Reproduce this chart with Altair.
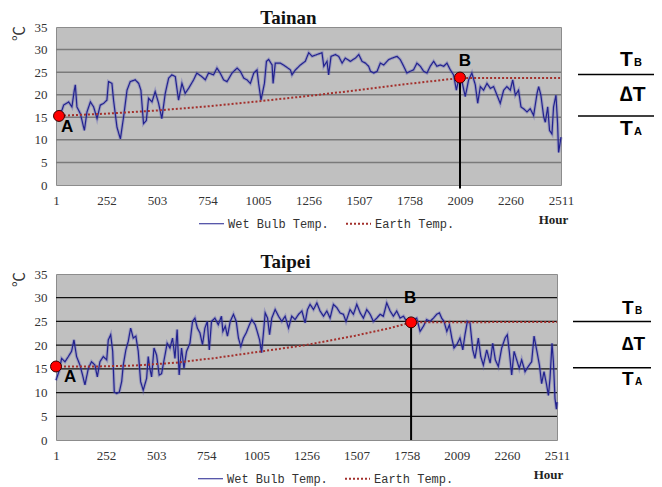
import altair as alt
import pandas as pd

SERIES = ["Wet Bulb Temp.", "Earth Temp."]
X_TICKS = [1, 252, 503, 754, 1005, 1256, 1507, 1758, 2009, 2260, 2511]
Y_TICKS = [0, 5, 10, 15, 20, 25, 30, 35]
GRID_LEVELS = [5, 10, 15, 20, 25, 30]

# ---------------- Tainan ----------------
tn_hours = [
    1, 15, 31, 39, 64, 80, 92, 97, 105, 122,
    142, 155, 172, 188, 205, 221, 238, 254, 262, 279,
    287, 304, 321, 337, 354, 370, 395, 412, 423, 436,
    450, 461, 478, 494, 511, 527, 544, 561, 577, 594,
    610, 627, 643, 660, 685, 701, 726, 743, 759, 784,
    801, 817, 834, 851, 876, 901, 917, 934, 950, 967,
    984, 1000, 1008, 1020, 1030, 1037, 1047, 1058, 1075, 1080,
    1091, 1116, 1141, 1166, 1174, 1191, 1216, 1240, 1257, 1274,
    1298, 1323, 1332, 1348, 1356, 1368, 1390, 1406, 1423, 1439,
    1464, 1489, 1506, 1522, 1539, 1555, 1564, 1580, 1597, 1613,
    1630, 1655, 1671, 1696, 1712, 1729, 1745, 1762, 1778, 1795,
    1812, 1828, 1845, 1861, 1878, 1894, 1911, 1928, 1944, 1961,
    1977, 1991, 2002, 2019, 2035, 2052, 2068, 2085, 2097, 2110,
    2126, 2143, 2160, 2176, 2193, 2209, 2226, 2242, 2259, 2271,
    2284, 2300, 2312, 2325, 2342, 2358, 2375, 2392, 2400, 2411,
    2425, 2433, 2445, 2454, 2466, 2474, 2486, 2494, 2499, 2511,
]
tn_wet = [
    15.0, 16.2, 16.6, 17.7, 18.4, 17.3, 21.0, 22.2, 17.3, 15.8,
    12.1, 16.2, 18.4, 17.3, 14.7, 17.7, 18.1, 18.8, 22.9, 22.5,
    18.8, 12.8, 10.2, 15.1, 21.0, 22.9, 23.3, 22.5, 21.0, 13.6,
    14.3, 19.2, 18.4, 20.7, 18.1, 14.7, 20.3, 23.7, 24.4, 24.0,
    18.8, 22.5, 20.3, 21.4, 23.3, 24.8, 24.0, 23.3, 24.8, 24.4,
    25.9, 24.8, 23.3, 22.9, 24.8, 25.9, 25.2, 23.7, 23.3, 22.5,
    24.8, 25.5, 22.5, 18.8, 21.0, 22.5, 27.4, 27.8, 26.6, 22.5,
    27.0, 27.0, 26.3, 25.5, 24.4, 25.5, 26.6, 27.4, 29.3, 28.5,
    28.9, 29.3, 26.3, 27.4, 24.4, 28.5, 28.9, 28.5, 27.0, 28.1,
    27.4, 28.1, 28.9, 27.4, 27.0, 26.3, 25.2, 24.8, 25.2, 27.0,
    26.6, 27.8, 28.1, 28.5, 27.8, 26.3, 24.8, 25.2, 25.5, 27.0,
    26.3, 25.2, 24.8, 26.3, 27.4, 26.3, 26.6, 26.3, 27.0, 25.5,
    24.4, 21.0, 23.3, 22.9, 19.6, 23.3, 24.8, 22.2, 18.1, 21.8,
    21.0, 22.5, 21.4, 21.8, 19.9, 18.1, 21.0, 21.8, 21.0, 23.3,
    19.9, 21.0, 17.3, 16.9, 16.2, 16.9, 15.4, 20.3, 21.8, 19.9,
    15.1, 13.9, 17.3, 12.1, 11.3, 17.3, 19.9, 13.6, 7.2, 10.6,
]
tn_earth_hours = [1, 250, 500, 750, 1000, 1250, 1500, 1750, 2009, 2511]
tn_earth = [15.3, 15.8, 16.5, 17.4, 18.5, 19.7, 21.0, 22.4, 23.7, 23.7]
tn_pt_labels = ["A", "B"]
tn_pt_hours = [16, 2009]
tn_pt_temps = [15.3, 23.8]
tn_levels = [24.5, 15.3]          # T_B line, T_A line

# ---------------- Taipei ----------------
tp_hours = [
    1, 18, 29, 46, 63, 79, 91, 104, 121, 134,
    146, 163, 179, 196, 208, 221, 238, 255, 263, 275,
    285, 293, 305, 318, 330, 338, 351, 363, 375, 388,
    401, 413, 425, 438, 455, 463, 471, 480, 492, 505,
    518, 530, 547, 558, 572, 585, 597, 608, 618, 630,
    642, 655, 672, 685, 697, 709, 722, 735, 747, 759,
    769, 780, 797, 814, 830, 837, 849, 860, 874, 890,
    904, 915, 927, 940, 954, 970, 982, 999, 1011, 1021,
    1031, 1041, 1049, 1061, 1071, 1082, 1099, 1116, 1132, 1149,
    1166, 1182, 1199, 1216, 1233, 1249, 1261, 1274, 1291, 1308,
    1324, 1341, 1358, 1374, 1391, 1408, 1424, 1441, 1454, 1474,
    1491, 1508, 1525, 1541, 1558, 1575, 1591, 1608, 1625, 1641,
    1658, 1675, 1691, 1708, 1725, 1742, 1758, 1778, 1792, 1808,
    1825, 1842, 1858, 1875, 1892, 1908, 1922, 1933, 1945, 1959,
    1972, 1984, 1995, 2009, 2025, 2039, 2050, 2062, 2075, 2089,
    2100, 2117, 2129, 2142, 2159, 2176, 2189, 2202, 2217, 2234,
    2251, 2262, 2272, 2284, 2296, 2309, 2322, 2334, 2351, 2367,
    2384, 2396, 2409, 2423, 2434, 2446, 2459, 2468, 2476, 2486,
    2493, 2501, 2508, 2511,
]
tp_wet = [
    12.6, 14.7, 17.2, 16.5, 17.6, 18.7, 21.1, 17.6, 15.8, 13.7,
    11.6, 15.1, 16.5, 15.8, 13.3, 16.5, 17.6, 16.9, 21.1, 22.2,
    18.7, 10.1, 9.8, 10.1, 12.3, 15.8, 19.0, 20.8, 23.6, 21.5,
    21.9, 18.7, 12.3, 10.5, 13.0, 17.6, 15.1, 13.3, 19.4, 17.9,
    13.7, 14.0, 17.9, 20.4, 19.4, 21.5, 17.2, 23.3, 13.7, 19.4,
    15.1, 18.7, 20.4, 25.0, 25.7, 23.6, 22.6, 20.1, 23.6, 25.0,
    19.0, 25.0, 25.7, 24.3, 26.1, 22.9, 24.0, 21.9, 25.0, 26.5,
    25.0, 21.5, 19.7, 21.5, 22.6, 24.3, 25.4, 24.3, 22.6, 21.1,
    18.4, 22.9, 26.8, 25.7, 22.2, 25.7, 27.5, 26.1, 25.0, 26.1,
    23.6, 26.1, 25.4, 26.5, 27.2, 24.7, 27.5, 28.6, 27.5, 28.9,
    27.2, 26.1, 27.2, 25.7, 28.6, 27.9, 26.8, 26.5, 25.0, 27.5,
    26.5, 28.6, 26.8, 25.7, 27.5, 26.5, 25.0, 25.7, 26.5, 26.1,
    28.9, 27.2, 26.1, 27.2, 25.7, 26.1, 25.0, 24.7, 25.4, 25.7,
    22.9, 24.0, 25.4, 25.0, 25.7, 26.5, 26.8, 25.7, 25.0, 22.9,
    24.3, 21.5, 19.4, 20.1, 21.5, 19.0, 22.2, 25.0, 24.7, 19.0,
    17.2, 21.5, 17.6, 15.8, 19.0, 16.2, 20.4, 16.9, 15.5, 19.4,
    21.5, 22.2, 18.7, 13.7, 18.7, 16.9, 15.1, 16.9, 14.4, 15.5,
    16.5, 21.9, 19.0, 15.8, 11.9, 14.4, 11.6, 9.4, 13.0, 20.4,
    16.5, 8.7, 6.5, 8.0,
]
tp_earth_hours = [1, 200, 400, 600, 800, 1000, 1250, 1500, 1675, 1780, 2511]
tp_earth = [15.5, 15.5, 15.7, 16.3, 17.3, 18.5, 20.0, 22.0, 23.6, 24.8, 24.9]
tp_pt_labels = ["A", "B"]
tp_pt_hours = [1, 1780]
tp_pt_temps = [15.5, 24.8]
tp_levels = [25.0, 15.25]

ANNOT_BIG = ["T", "\u2206T", "T"]
ANNOT_SUB = ["B", "A"]


def panel(name, hours, wet, e_hours, e_vals, pt_labels, pt_hours, pt_temps, levels, st):
    xs = alt.Scale(domain=[1, 2511], nice=False, zero=False)
    ys = alt.Scale(domain=[0, 35], nice=False)
    xaxis = alt.Axis(values=X_TICKS, format="d", title="Hour", grid=False, ticks=False, domain=False,
                     labelFont="Liberation Serif", labelFontSize=13, labelColor="#333333",
                     labelPadding=9, labelFlush=False, labelOverlap=False,
                     titleFont="Liberation Serif", titleFontSize=13, titleFontWeight="bold",
                     titleColor="#222222", titleX=st["hour_x"], titleY=st["hour_y"],
                     titleAlign="center", titleBaseline="middle", titleAngle=0)
    yaxis = alt.Axis(values=Y_TICKS, format="d", title="\u2103", grid=False, ticks=False, domain=False,
                     labelFont="Liberation Serif", labelFontSize=13, labelColor="#333333",
                     labelPadding=9, labelFlush=False, labelOverlap=False,
                     titleFont="Noto Sans CJK SC", titleFontSize=15, titleFontWeight="normal",
                     titleColor="#333333", titleX=st["yt_x"], titleY=st["yt_y"],
                     titleAngle=270, titleAlign="center", titleBaseline="middle")

    def X(f="hour"):
        return alt.X(f"{f}:Q", scale=xs, axis=xaxis)

    def Y(f="temp"):
        return alt.Y(f"{f}:Q", scale=ys, axis=yaxis)

    leg = alt.Legend(orient="none", legendX=st["leg_x"], legendY=st["leg_y"],
                     direction="horizontal", title=None, symbolType="stroke", symbolSize=625,
                     labelFont="Liberation Mono", labelFontSize=12, labelColor="#333333",
                     labelOffset=3, columnPadding=13, padding=0)
    ser = dict(
        color=alt.Color("series:N", scale=alt.Scale(domain=SERIES, range=["#22228f", "#a3302c"]), legend=leg),
        strokeDash=alt.StrokeDash("series:N", scale=alt.Scale(domain=SERIES, range=[[1, 0], [2, 2]]), legend=leg),
        strokeWidth=alt.StrokeWidth("series:N", scale=alt.Scale(domain=SERIES, range=[1.2, 2.0]), legend=leg),
    )

    grid = alt.Chart(pd.DataFrame({"temp": GRID_LEVELS})).mark_rule(
        color=st["grid_color"], strokeWidth=st["grid_width"]).encode(y=Y())

    wet_df = pd.DataFrame({"hour": hours, "temp": wet, "series": SERIES[0]})
    earth_df = pd.DataFrame({"hour": e_hours, "temp": e_vals, "series": SERIES[1]})
    halo = alt.Chart(wet_df).mark_line(color="#5a5ab8", strokeWidth=3.2, opacity=0.35).encode(x=X(), y=Y())
    wet_line = alt.Chart(wet_df).mark_line().encode(x=X(), y=Y(), **ser)
    earth_line = alt.Chart(earth_df).mark_line().encode(x=X(), y=Y(), **ser)

    pts = pd.DataFrame({"label": pt_labels, "hour": pt_hours, "temp": pt_temps})
    b_df = pts.iloc[[1]].assign(floor=st["rule_floor"])
    vrule = alt.Chart(b_df).mark_rule(color="black", strokeWidth=2).encode(
        x=X(), y=Y(), y2=alt.Y2("floor:Q"))
    dots = alt.Chart(pts).mark_circle(size=120, fill="#ff0000", stroke="#3a0000",
                                      strokeWidth=1, opacity=1).encode(x=X(), y=Y())
    lab_a = alt.Chart(pts.iloc[[0]]).mark_text(
        align="left", baseline="alphabetic", dx=st["a_dx"], dy=st["a_dy"],
        font="Liberation Sans", fontWeight="bold", fontSize=17, color="black").encode(
        x=X(), y=Y(), text="label:N")
    lab_b = alt.Chart(pts.iloc[[1]]).mark_text(
        align="center", baseline="alphabetic", dx=st["b_dx"], dy=st["b_dy"],
        font="Liberation Sans", fontWeight="bold", fontSize=17, color="black").encode(
        x=X(), y=Y(), text="label:N")

    lev_df = pd.DataFrame({"temp": levels})
    ann_rules = alt.Chart(lev_df).mark_rule(color="black", strokeWidth=1.5).encode(
        x=alt.value(st["ann_x1"]), x2=alt.value(st["ann_x2"]), y=Y())

    def ann_text(txt, lvl, xpix, dy, size):
        return alt.Chart(pd.DataFrame({"temp": [lvl], "txt": [txt]})).mark_text(
            align="left", baseline="alphabetic", dy=dy, font="Liberation Sans",
            fontWeight="bold", fontSize=size, color="black").encode(
            x=alt.value(xpix), y=Y(), text="txt:N")

    texts = [
        ann_text(ANNOT_BIG[0], levels[0], st["t_x"], st["tb_dy"], st["t_size"]),
        ann_text(ANNOT_SUB[0], levels[0], st["sub_x"], st["tb_dy"], st["sub_size"]),
        ann_text(ANNOT_BIG[1], levels[1], st["t_x"], st["dt_dy"], st["t_size"]),
        ann_text(ANNOT_BIG[2], levels[1], st["t_x"], st["ta_dy"], st["t_size"]),
        ann_text(ANNOT_SUB[1], levels[1], st["sub_x"], st["ta_dy"], st["sub_size"]),
    ]

    return alt.layer(grid, halo, wet_line, earth_line, vrule, dots, lab_a, lab_b, ann_rules, *texts).properties(
        width=st["width"], height=st["height"],
        title=alt.TitleParams(text=name, font="Liberation Serif", fontSize=19, fontWeight="bold",
                              color="#111111", anchor="middle", dx=st["title_dx"],
                              offset=st["title_off"]))


tn_style = dict(width=505, height=158, grid_color="#7a7a7a", grid_width=1.5,
                hour_x=497, hour_y=34, yt_x=-38, yt_y=6, leg_x=142, leg_y=183,
                rule_floor=-0.8, a_dx=2, a_dy=16, b_dx=5, b_dy=-12,
                ann_x1=522, ann_x2=606, t_x=564, sub_x=578, t_size=21, sub_size=11,
                tb_dy=-8, dt_dy=-15, ta_dy=19, title_dx=-20, title_off=-7)
tp_style = dict(width=501, height=166, grid_color="#111111", grid_width=1.3,
                hour_x=492, hour_y=34, yt_x=-38, yt_y=5, leg_x=141, leg_y=191,
                rule_floor=0, a_dx=8, a_dy=16, b_dx=-1, b_dy=-19,
                ann_x1=517, ann_x2=595, t_x=566, sub_x=579, t_size=19, sub_size=10,
                tb_dy=-7, dt_dy=-18, ta_dy=17, title_dx=-21, title_off=-4)

top = panel("Tainan", tn_hours, tn_wet, tn_earth_hours, tn_earth,
            tn_pt_labels, tn_pt_hours, tn_pt_temps, tn_levels, tn_style)
bottom = panel("Taipei", tp_hours, tp_wet, tp_earth_hours, tp_earth,
               tp_pt_labels, tp_pt_hours, tp_pt_temps, tp_levels, tp_style)

chart = alt.vconcat(top, bottom, spacing=89, bounds="flush").resolve_scale(
    color="independent", strokeDash="independent", strokeWidth="independent"
).resolve_legend(
    color="independent", strokeDash="independent", strokeWidth="independent"
).properties(
    autosize=alt.AutoSizeParams(type="none"),
    padding={"left": 48, "top": 19, "right": 598, "bottom": 460},
).configure_view(fill="#c0c0c0", stroke="#8c8c8c", strokeWidth=1)

chart.save("out.html", embed_options={"renderer": "svg", "actions": False})
